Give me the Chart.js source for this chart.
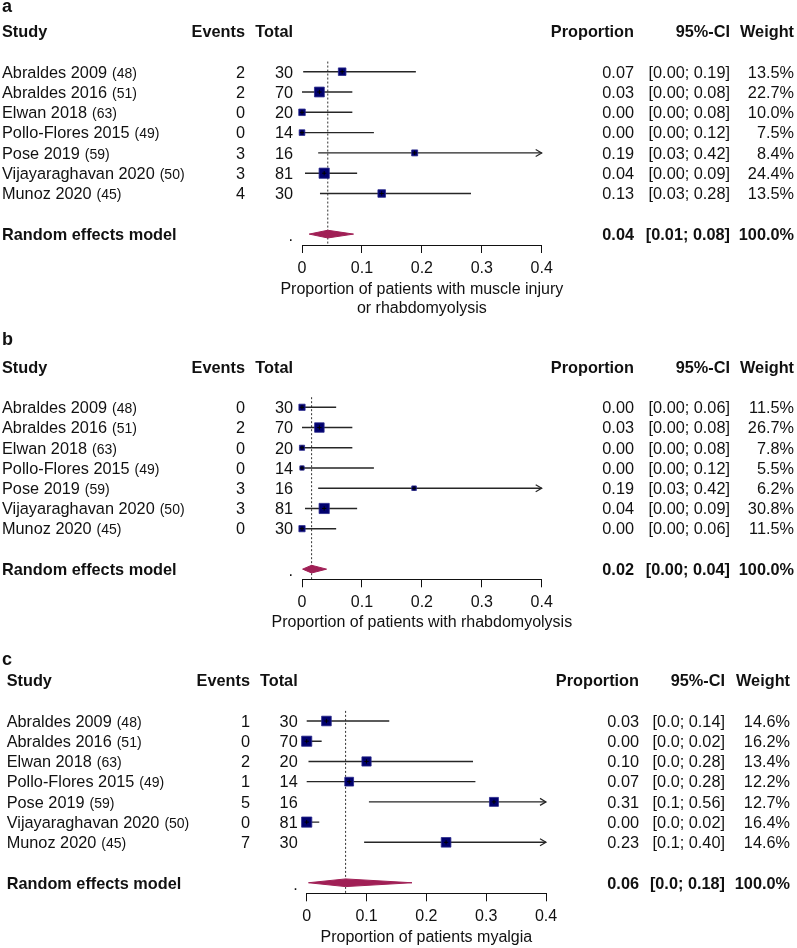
<!DOCTYPE html>
<html>
<head>
<meta charset="utf-8">
<script src="https://cdn.jsdelivr.net/npm/chart.js@4.4.0/dist/chart.umd.min.js"></script>
<style>
  body { margin: 0; background: #fff; }
  #wrap { position: relative; width: 797px; height: 948px; }
  canvas { position: absolute; left: 0; }
</style>
</head>
<body>
<div id="wrap">
  <canvas id="pa" width="797" height="318" style="top:0px"></canvas>
  <canvas id="pb" width="797" height="312" style="top:318px"></canvas>
  <canvas id="pc" width="797" height="318" style="top:630px"></canvas>
</div>
<script>
// shared study columns
const studies = ['Abraldes 2009', 'Abraldes 2016', 'Elwan 2018', 'Pollo-Flores 2015', 'Pose 2019', 'Vijayaraghavan 2020', 'Munoz 2020'];
const refs = ['(48)', '(51)', '(63)', '(49)', '(59)', '(50)', '(45)'];
const totals = [30, 70, 20, 14, 16, 81, 30];
const xTicks = [0, 0.1, 0.2, 0.3, 0.4];

// a - muscle injury or rhabdomyolysis
const eventsA = [2, 2, 0, 0, 3, 3, 4];
const propA = [0.067, 0.029, 0, 0, 0.188, 0.037, 0.133];
const lowA = [0.002, 0, 0, 0, 0.027, 0.005, 0.03];
const highA = [0.19, 0.084, 0.084, 0.12, 0.42, 0.092, 0.282];
const weightA = [13.5, 22.7, 10.0, 7.5, 8.4, 24.4, 13.5];
const propTxtA = ['0.07', '0.03', '0.00', '0.00', '0.19', '0.04', '0.13'];
const ciTxtA = ['[0.00; 0.19]', '[0.00; 0.08]', '[0.00; 0.08]', '[0.00; 0.12]', '[0.03; 0.42]', '[0.00; 0.09]', '[0.03; 0.28]'];
const sumA = [0.043, 0.012, 0.086];          // estimate, lower, upper
const sumTxtA = ['0.04', '[0.01; 0.08]', '100.0%'];

// b - rhabdomyolysis
const eventsB = [0, 2, 0, 0, 3, 3, 0];
const propB = [0, 0.029, 0, 0, 0.187, 0.037, 0];
const lowB = [0, 0, 0, 0, 0.027, 0.005, 0];
const highB = [0.057, 0.084, 0.084, 0.12, 0.42, 0.092, 0.057];
const weightB = [11.5, 26.7, 7.8, 5.5, 6.2, 30.8, 11.5];
const propTxtB = ['0.00', '0.03', '0.00', '0.00', '0.19', '0.04', '0.00'];
const ciTxtB = ['[0.00; 0.06]', '[0.00; 0.08]', '[0.00; 0.08]', '[0.00; 0.12]', '[0.03; 0.42]', '[0.00; 0.09]', '[0.00; 0.06]'];
const sumB = [0.016, 0.001, 0.041];
const sumTxtB = ['0.02', '[0.00; 0.04]', '100.0%'];

// c - myalgia
const eventsC = [1, 0, 2, 1, 5, 0, 7];
const propC = [0.033, 0, 0.1, 0.071, 0.313, 0, 0.233];
const lowC = [0, 0, 0.003, 0, 0.104, 0, 0.096];
const highC = [0.138, 0.025, 0.278, 0.282, 0.56, 0.021, 0.404];
const weightC = [14.6, 16.2, 13.4, 12.2, 12.7, 16.4, 14.6];
const propTxtC = ['0.03', '0.00', '0.10', '0.07', '0.31', '0.00', '0.23'];
const ciTxtC = ['[0.0; 0.14]', '[0.0; 0.02]', '[0.0; 0.28]', '[0.0; 0.28]', '[0.1; 0.56]', '[0.0; 0.02]', '[0.1; 0.40]'];
const sumC = [0.065, 0.003, 0.176];
const sumTxtC = ['0.06', '[0.0; 0.18]', '100.0%'];

const FAM = "'Liberation Sans', Arial, Helvetica, sans-serif";
const TXT = '#111';
const SQUARE = '#00006e';
const DIAMOND = '#a01f55';
const CI_COL = '#262626';
Chart.defaults.font.family = FAM;

function forest(id, o) {
    const canvas = document.getElementById(id);
    const H = canvas.height;
    const lay = o.lay;
    const top = lay.row0 - lay.gap;
    const yMax = (lay.axisY - top) / lay.gap - 1;
    const sumRow = 8;
    const wMax = Math.max(...o.weight);

    // CI whiskers, broken with nulls between rows
    let ci = [];
    o.prop.forEach((p, i) => {
        ci.push({ x: o.low[i], y: i }, { x: Math.min(o.high[i], 0.4), y: i }, { x: null, y: null });
    });
    let est = o.prop.map((p, i) => ({ x: p, y: i }));
    let s = o.sum;
    let diamond = [
        { x: s[1], y: sumRow }, { x: s[0], y: sumRow - 0.19 },
        { x: s[2], y: sumRow }, { x: s[0], y: sumRow + 0.19 }, { x: s[1], y: sumRow }
    ];
    let titleLines = Array.isArray(o.title) ? o.title : [o.title];

    const tablePlugin = {
        id: 'table',
        afterDatasetsDraw(chart) {
            const ctx = chart.ctx;
            const xs = chart.scales.x, ys = chart.scales.y;
            // arrows for CIs running past the axis
            ctx.save();
            ctx.strokeStyle = CI_COL;
            ctx.lineWidth = 1.2;
            o.high.forEach((h, i) => {
                if (h <= 0.4) return;
                let px = xs.getPixelForValue(0.4), py = ys.getPixelForValue(i);
                ctx.beginPath();
                ctx.moveTo(px - 6, py - 3.5);
                ctx.lineTo(px, py);
                ctx.lineTo(px - 6, py + 3.5);
                ctx.stroke();
            });
            ctx.restore();
        },
        afterDraw(chart) {
            const ctx = chart.ctx;
            const ys = chart.scales.y;
            const area = chart.chartArea;
            const c = lay.cols;
            const reg = '16.3px ' + FAM, bold = 'bold 16.3px ' + FAM, small = '14px ' + FAM;
            const base = v => ys.getPixelForValue(v) + 5.8;
            const put = (t, x, y, align, font) => {
                ctx.font = font;
                ctx.textAlign = align;
                ctx.fillText(t, x, y);
            };
            ctx.save();
            ctx.fillStyle = TXT;
            ctx.textBaseline = 'alphabetic';
            put(o.letter, lay.letterX, lay.letterY, 'left', 'bold 18px ' + FAM);
            let hy = base(-2);
            put('Study', c.study, hy, 'left', bold);
            put('Events', c.events, hy, 'right', bold);
            put('Total', c.total, hy, 'right', bold);
            put('Proportion', c.prop, hy, 'right', bold);
            put('95%-CI', c.ci, hy, 'right', bold);
            put('Weight', c.weight, hy, 'right', bold);
            studies.forEach((name, i) => {
                let y = base(i);
                put(name, c.study, y, 'left', reg);
                let w = ctx.measureText(name).width;
                put(refs[i], c.study + w + 5, y, 'left', small);
                put(String(o.events[i]), c.events, y, 'right', reg);
                put(String(totals[i]), c.total, y, 'right', reg);
                put(o.propTxt[i], c.prop, y, 'right', reg);
                put(o.ciTxt[i], c.ci, y, 'right', reg);
                put(o.weight[i].toFixed(1) + '%', c.weight, y, 'right', reg);
            });
            let sy = base(sumRow);
            put('Random effects model', c.study, sy, 'left', bold);
            put('.', c.total, sy + 1, 'right', reg);
            put(o.sumTxt[0], c.prop, sy, 'right', bold);
            put(o.sumTxt[1], c.ci, sy, 'right', bold);
            put(o.sumTxt[2], c.weight, sy, 'right', bold);
            // axis title under the ticks, full width
            let cx = (area.left + area.right) / 2;
            titleLines.forEach((t, k) => {
                put(t, cx, lay.titleY + k * 19 + 5.8, 'center', '16px ' + FAM);
            });
            ctx.restore();
        }
    };

    return new Chart(canvas, {
        type: 'scatter',
        data: {
            datasets: [
                {
                    // pooled estimate reference
                    data: [{ x: s[0], y: -0.5 }, { x: s[0], y: yMax }],
                    showLine: true, borderColor: '#333', borderWidth: 1, borderDash: [2, 2],
                    pointRadius: 0, clip: false, order: 5,
                },
                {
                    data: diamond, showLine: true, fill: 'shape', tension: 0,
                    backgroundColor: DIAMOND, borderColor: DIAMOND, borderWidth: 1,
                    pointRadius: 0, clip: false, order: 4,
                },
                {
                    data: ci, showLine: true, spanGaps: false, borderColor: CI_COL, borderWidth: 1.4,
                    pointRadius: 0, clip: false, order: 3,
                },
                {
                    data: est, pointStyle: 'rect',
                    pointRadius: o.weight.map(w => 10.2 / Math.SQRT2 * Math.sqrt(w / wMax)),
                    backgroundColor: SQUARE, borderColor: '#2a2a8c', borderWidth: 0.8,
                    clip: false, order: 2,
                },
                {
                    data: est, pointStyle: 'cross', pointRadius: 2.2,
                    borderColor: '#000', borderWidth: 1, clip: false, order: 1,
                },
            ],
        },
        options: {
            responsive: false,
            animation: false,
            events: [],
            layout: { padding: { left: lay.x0, right: 797 - lay.x1, top: top, bottom: 0 } },
            scales: {
                x: {
                    type: 'linear', position: 'bottom', min: 0, max: 0.4,
                    afterBuildTicks: sc => { sc.ticks = xTicks.map(v => ({ value: v })); },
                    ticks: { color: TXT, font: { size: 16 }, padding: 6, maxRotation: 0 },
                    grid: { drawOnChartArea: false, drawTicks: true, tickLength: 8, color: '#111' },
                    border: { display: true, color: '#111', width: 1 },
                    title: { display: false },
                    afterFit: sc => { sc.height = H - lay.axisY; },
                },
                y: { type: 'linear', reverse: true, min: -1, max: yMax, display: false },
            },
            plugins: {
                legend: { display: false },
                tooltip: { enabled: false },
                filler: { drawTime: 'beforeDatasetDraw' },
            },
        },
        plugins: [tablePlugin],
    });
}

const colsAB = { study: 2, events: 245, total: 293, prop: 634, ci: 730, weight: 794 };

forest('pa', {
    letter: 'a',
    title: ['Proportion of patients with muscle injury', 'or rhabdomyolysis'],
    events: eventsA, prop: propA, low: lowA, high: highA, weight: weightA,
    propTxt: propTxtA, ciTxt: ciTxtA, sum: sumA, sumTxt: sumTxtA,
    lay: { row0: 71.7, gap: 20.3, axisY: 245, x0: 302, x1: 541.7, titleY: 288, letterX: 2, letterY: 12, cols: colsAB },
});

forest('pb', {
    letter: 'b',
    title: 'Proportion of patients with rhabdomyolysis',
    events: eventsB, prop: propB, low: lowB, high: highB, weight: weightB,
    propTxt: propTxtB, ciTxt: ciTxtB, sum: sumB, sumTxt: sumTxtB,
    lay: { row0: 89.3, gap: 20.23, axisY: 261.3, x0: 302, x1: 541.7, titleY: 303, letterX: 2, letterY: 27, cols: colsAB },
});

forest('pc', {
    letter: 'c',
    title: 'Proportion of patients myalgia',
    events: eventsC, prop: propC, low: lowC, high: highC, weight: weightC,
    propTxt: propTxtC, ciTxt: ciTxtC, sum: sumC, sumTxt: sumTxtC,
    lay: {
        row0: 91, gap: 20.22, axisY: 263.3, x0: 306.7, x1: 546, titleY: 306, letterX: 2, letterY: 35,
        cols: { study: 6.7, events: 250, total: 297.7, prop: 639, ci: 725, weight: 790 },
    },
});
</script>
</body>
</html>
